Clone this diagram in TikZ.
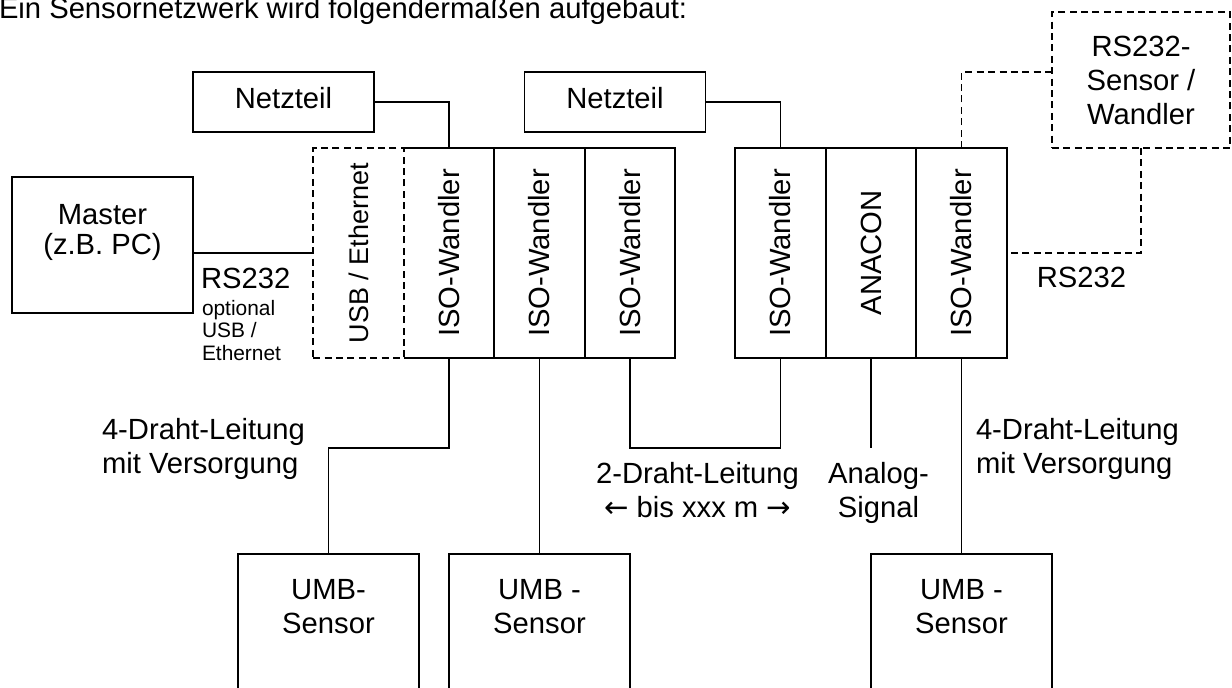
\documentclass[tikz,border=0pt]{standalone}
\usepackage{fontspec}
\setmainfont{Liberation Sans}
\newfontfamily\pfeil{DejaVu Sans}
\usepackage{graphicx}
\usetikzlibrary{positioning}

\begin{document}
\begin{tikzpicture}[x=0.5pt, y=-0.5pt, line width=0.9pt,
  every node/.style={font=\fontsize{14.6}{17}\selectfont, inner sep=0pt, outer sep=0pt},
  kasten/.style={draw, rectangle, minimum width=90.5pt, align=center},
  modul/.style={rectangle, minimum width=45.25pt, minimum height=105pt},
  gestrichelt/.style={dash pattern=on 3.5pt off 2.2pt},
  klein/.style={font=\fontsize{10.45}{11.25}\selectfont}]
    \useasboundingbox (0,0) rectangle (1232,687);
    \clip (0,0) rectangle (1232,687);
    \node[anchor=base west] (titel) at (-1,18) {Ein Sensornetzwerk wird folgendermaßen aufgebaut:};

    \node[kasten, minimum height=68pt] (master) at (102.5,245) {};
    \node[anchor=base, align=center, font=\fontsize{14.6}{14.65}\selectfont] (masterText) at (102.5,254) {Master\\(z.B. PC)};

    \node[kasten, minimum height=30pt, text height=11pt, text depth=5pt] (netz1) at (283.5,102) {Netzteil};
    \node[kasten, minimum height=30pt, text height=11pt, text depth=5pt] (netz2) at (615,102) {Netzteil};

    \node[modul, draw, gestrichelt, font=\fontsize{13.5}{16}\selectfont] (usb) at (358.5,253) {\rotatebox{90}{USB / Ethernet}};
    \node[modul, right=0pt of usb] (iso1) {\rotatebox{90}{ISO-Wandler}};
    \node[modul, draw, right=0pt of iso1] (iso2) {\rotatebox{90}{ISO-Wandler}};
    \node[modul, draw, right=0pt of iso2] (iso3) {\rotatebox{90}{ISO-Wandler}};
    \draw (iso1.north west) -| (iso1.south east) -- (iso1.south west);

    \node[modul, draw] (iso4) at (780.5,253) {\rotatebox{90}{ISO-Wandler}};
    \node[modul, draw, right=0pt of iso4] (anacon) {\rotatebox{90}{ANACON}};
    \node[modul, draw, right=0pt of anacon] (iso5) {\rotatebox{90}{ISO-Wandler}};

    \node[kasten, draw, gestrichelt, minimum width=89pt, minimum height=68pt] (rs) at (1141,80) {RS232-\\Sensor /\\Wandler};

    \node[kasten, minimum height=90pt, anchor=north] (umb1) at (328.5,554) {};
    \node[kasten, minimum height=90pt, anchor=north] (umb2) at (539.5,554) {};
    \node[kasten, minimum height=90pt, anchor=north] (umb3) at (961.5,554) {};
    \node[anchor=base, align=center] (umbText1) at ([yshift=-39.5pt]umb1.north) {UMB-\\Sensor};
    \node[anchor=base, align=center] (umbText2) at ([yshift=-39.5pt]umb2.north) {UMB -\\Sensor};
    \node[anchor=base, align=center] (umbText3) at ([yshift=-39.5pt]umb3.north) {UMB -\\Sensor};

    \draw (netz1) -| (iso1);
    \draw (netz2) -| (iso4);
    \draw (master.east |- usb.west) -- (usb.west);
    \draw (iso1.south) -- ++(0,90) -| (umb1.north);
    \draw (iso2.south) -- (umb2.north);
    \draw (iso3.south) -- ++(0,90) -| (iso4.south);
    \draw (anacon.south) -- ++(0,90) coordinate (analog);
    \draw (iso5.south) -- (umb3.north);
    \draw[gestrichelt] (iso5.north) |- ([yshift=4pt]rs.west);
    \draw[gestrichelt] (rs.south) |- (iso5.east);

    \node[anchor=base west] (rsLinks) at (201,288) {RS232};
    \node[klein, anchor=base west, align=left] (optText) at (202,360) {optional\\USB /\\Ethernet};
    \node[anchor=base west, align=left] (vierDrahtL) at (102,473) {4-Draht-Leitung\\mit Versorgung};
    \node[anchor=base west, align=left] (vierDrahtR) at (976,473) {4-Draht-Leitung\\mit Versorgung};
    \node[anchor=base, align=center] (zweiDraht) at (697.5,517) {2-Draht-Leitung\\{\pfeil ←} bis xxx m {\pfeil →}};
    \node[anchor=base, align=center] (analogText) at (878.5,517) {Analog-\\Signal};
    \node[anchor=base] (rsRechts) at (1081.5,287) {RS232};
\end{tikzpicture}
\end{document}
